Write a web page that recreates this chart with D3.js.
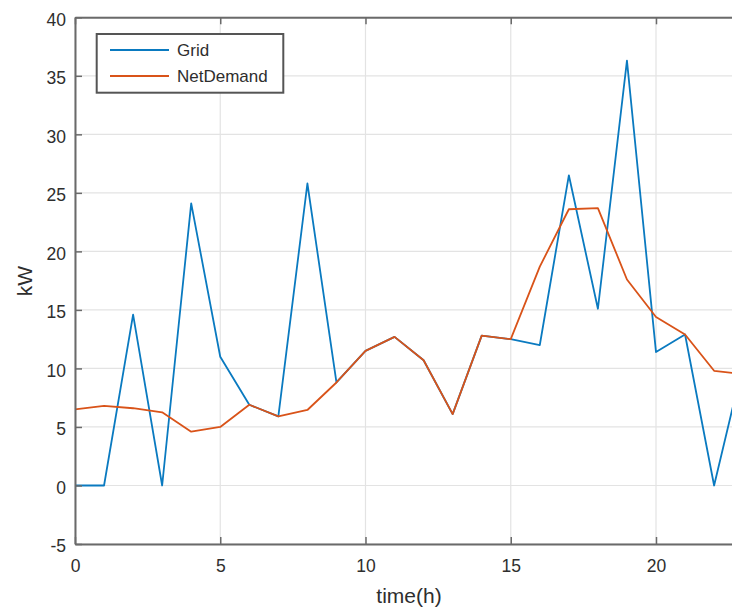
<!DOCTYPE html>
<html>
<head>
<meta charset="utf-8">
<script src="https://cdn.jsdelivr.net/npm/d3@7"></script>
<style>
  html, body { margin: 0; padding: 0; background: #fff; }
  svg { display: block; font-family: "Liberation Sans", Arial, sans-serif; }
</style>
</head>
<body>
<svg id="chart" width="732" height="610"></svg>
<script>
// Hourly power profile
const hours = d3.range(0, 24);
const gridPower = [0, 0, 14.6, 0, 24.1, 11.0, 6.9, 5.9, 25.8, 8.8, 11.5, 12.7, 10.7, 6.1, 12.8, 12.5, 12.0, 26.5, 15.1, 36.3, 11.4, 12.9, 0, 10.4];
const netDemand = [6.5, 6.8, 6.6, 6.25, 4.6, 5.0, 6.9, 5.9, 6.45, 8.8, 11.5, 12.7, 10.7, 6.1, 12.8, 12.5, 18.7, 23.6, 23.7, 17.6, 14.4, 12.9, 9.8, 9.5];
const seriesNames = ["Grid", "NetDemand"];
const seriesColors = ["#0a7ac0", "#D95319"];
const xTicks = [0, 5, 10, 15, 20];
const yTicks = [-5, 0, 5, 10, 15, 20, 25, 30, 35, 40];

(function draw() {
  const svg = d3.select("#chart");
  const plotLeft = 75, plotTop = 17.3, plotBottom = 544, unitX = 29.05;

  const x = d3.scaleLinear().domain([0, 24]).range([plotLeft, plotLeft + 24 * unitX]);
  const y = d3.scaleLinear().domain([-5, 40]).range([plotBottom, plotTop]);
  const axisColor = "#6a6a6a";
  const textColor = "#2e2e2e";

  // grid lines
  const g = svg.append("g");
  g.selectAll("line.vg").data(xTicks).join("line")
    .attr("class", "vg")
    .attr("x1", d => x(d)).attr("x2", d => x(d))
    .attr("y1", plotTop).attr("y2", plotBottom)
    .attr("stroke", "#e3e3e3").attr("stroke-width", 1.2);
  g.selectAll("line.hg").data(yTicks).join("line")
    .attr("class", "hg")
    .attr("x1", plotLeft).attr("x2", 732)
    .attr("y1", d => y(d)).attr("y2", d => y(d))
    .attr("stroke", "#e3e3e3").attr("stroke-width", 1.2);

  // data lines
  const line = d3.line().x((d, i) => x(hours[i])).y(d => y(d));
  [gridPower, netDemand].forEach((vals, k) => {
    svg.append("path").datum(vals)
      .attr("d", line)
      .attr("fill", "none")
      .attr("stroke", seriesColors[k])
      .attr("stroke-width", 1.8)
      .attr("stroke-linejoin", "round");
  });

  // axes (box style, ticks pointing inward)
  const plain = d => String(d);
  const xAxis = d3.axisBottom(x).tickValues(xTicks).tickFormat(plain).tickSizeInner(-7).tickSizeOuter(0).tickPadding(16);
  const yAxis = d3.axisLeft(y).tickValues(yTicks).tickFormat(plain).tickSizeInner(-7).tickSizeOuter(0).tickPadding(14);
  const xAxisTop = d3.axisTop(x).tickValues(xTicks).tickSizeInner(-7).tickSizeOuter(0).tickFormat("");

  function styleAxis(sel) {
    sel.select(".domain").attr("stroke", axisColor).attr("stroke-width", 2);
    sel.selectAll(".tick line").attr("stroke", axisColor).attr("stroke-width", 1.5);
    sel.selectAll(".tick text").attr("fill", textColor).style("font-size", "17.5px")
      .style("font-family", "'Liberation Sans', Arial, sans-serif");
  }
  svg.append("g").attr("transform", `translate(0,${plotBottom})`).call(xAxis).call(styleAxis);
  svg.append("g").attr("transform", `translate(${plotLeft},0)`).call(yAxis).call(styleAxis)
    .selectAll(".tick text").attr("x", -9).attr("dy", "0.45em");
  svg.append("g").attr("transform", `translate(0,${plotTop})`).call(xAxisTop).call(styleAxis);

  // axis labels
  svg.append("text").attr("x", 409).attr("y", 603).attr("text-anchor", "middle")
    .attr("fill", textColor).style("font-size", "21px").text("time(h)");
  svg.append("text").attr("transform", "translate(31.5,281) rotate(-90)").attr("text-anchor", "middle")
    .attr("fill", textColor).style("font-size", "21px").text("kW");

  // legend
  const lg = svg.append("g");
  lg.append("rect").attr("x", 96.7).attr("y", 34).attr("width", 186.6).attr("height", 58.7)
    .attr("fill", "#fff").attr("stroke", "#555").attr("stroke-width", 2);
  seriesNames.forEach((name, i) => {
    const yy = 50 + i * 26;
    lg.append("line").attr("x1", 110).attr("x2", 169).attr("y1", yy).attr("y2", yy)
      .attr("stroke", seriesColors[i]).attr("stroke-width", 1.8);
    lg.append("text").attr("x", 177).attr("y", yy + 6).attr("fill", textColor)
      .style("font-size", "17px").text(name);
  });
})();
</script>
</body>
</html>
